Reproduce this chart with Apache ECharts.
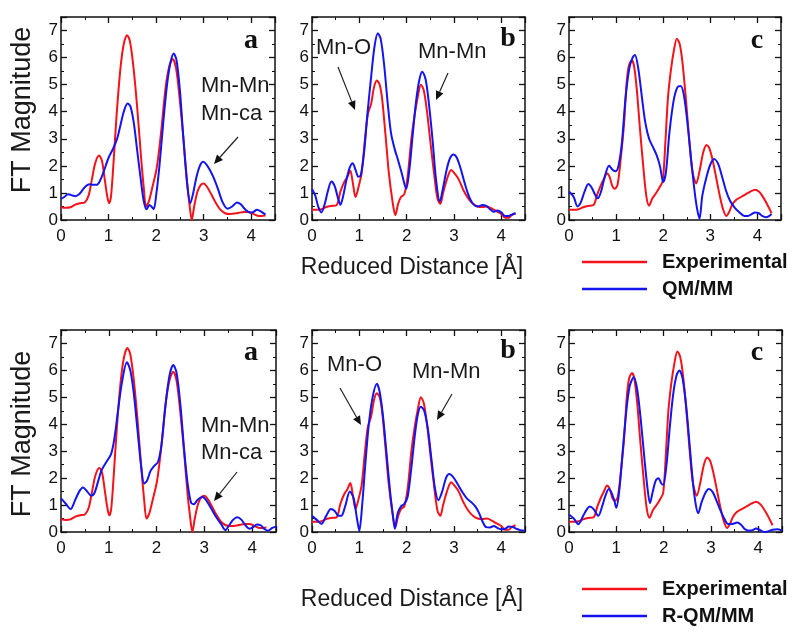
<!DOCTYPE html>
<html>
<head>
<meta charset="utf-8">
<script src="https://cdn.jsdelivr.net/npm/echarts@6/dist/echarts.min.js"></script>
<style>html,body{margin:0;padding:0;background:#fff;}#c{width:800px;height:636px;}</style>
</head>
<body>
<div id="c"></div>
<script>
// ---- Data: [reduced distance (Å), FT magnitude] ----
const expA = [[0,0.47],[0.1,0.45],[0.2,0.47],[0.3,0.57],[0.4,0.62],[0.5,0.65],[0.58,0.9],[0.65,1.5],[0.72,2.1],[0.8,2.38],[0.86,2.2],[0.92,1.5],[0.97,0.9],[1.01,0.62],[1.05,0.85],[1.1,2.0],[1.17,3.9],[1.25,5.6],[1.32,6.5],[1.39,6.83],[1.45,6.6],[1.52,5.7],[1.6,4.2],[1.68,2.4],[1.74,1.2],[1.79,0.5],[1.85,0.7],[1.92,1.2],[2.0,1.8],[2.05,2.4],[2.12,3.5],[2.2,4.9],[2.28,5.7],[2.35,5.95],[2.42,5.6],[2.5,4.4],[2.58,2.9],[2.65,1.4],[2.7,0.6],[2.75,0.0],[2.8,0.5],[2.87,1.05],[2.94,1.3],[3.0,1.35],[3.08,1.2],[3.16,0.95],[3.25,0.65],[3.35,0.38],[3.45,0.25],[3.55,0.22],[3.7,0.25],[3.85,0.3],[3.95,0.3],[4.05,0.22],[4.15,0.15],[4.3,0.17]];
const qmA = [[0,0.78],[0.07,0.85],[0.15,0.95],[0.22,0.92],[0.3,0.88],[0.38,0.95],[0.45,1.1],[0.52,1.25],[0.6,1.32],[0.67,1.3],[0.75,1.3],[0.82,1.45],[0.9,1.8],[1.0,2.3],[1.1,2.65],[1.18,3.0],[1.25,3.5],[1.32,4.0],[1.4,4.3],[1.46,4.2],[1.53,3.6],[1.6,2.6],[1.67,1.6],[1.74,0.7],[1.8,0.4],[1.86,0.55],[1.9,0.5],[1.95,0.4],[2.0,0.9],[2.07,2.0],[2.15,3.6],[2.23,5.0],[2.3,5.8],[2.37,6.15],[2.43,5.9],[2.5,4.8],[2.57,3.1],[2.65,1.4],[2.72,0.62],[2.78,1.0],[2.85,1.6],[2.92,2.0],[2.99,2.15],[3.06,2.05],[3.13,1.85],[3.2,1.6],[3.3,1.15],[3.4,0.65],[3.5,0.42],[3.6,0.5],[3.7,0.65],[3.78,0.58],[3.88,0.38],[3.98,0.27],[4.05,0.3],[4.12,0.38],[4.2,0.32],[4.3,0.2]];
const rqmA = [[0,1.25],[0.1,1.05],[0.2,0.85],[0.3,1.2],[0.38,1.5],[0.46,1.65],[0.55,1.5],[0.63,1.35],[0.7,1.45],[0.78,1.9],[0.85,2.3],[0.95,2.6],[1.05,2.9],[1.12,3.5],[1.2,4.6],[1.28,5.6],[1.38,6.3],[1.45,6.0],[1.52,5.2],[1.6,3.8],[1.68,2.4],[1.74,1.8],[1.8,1.9],[1.87,2.25],[1.95,2.45],[2.03,2.6],[2.1,3.2],[2.18,4.6],[2.27,5.8],[2.35,6.2],[2.42,5.9],[2.5,4.7],[2.58,3.0],[2.65,1.8],[2.72,1.1],[2.78,1.03],[2.86,1.2],[2.96,1.3],[3.05,1.15],[3.15,0.85],[3.25,0.55],[3.35,0.3],[3.44,0.07],[3.52,0.25],[3.6,0.45],[3.69,0.55],[3.78,0.45],[3.86,0.25],[3.95,0.12],[4.02,0.18],[4.1,0.28],[4.18,0.25],[4.25,0.12],[4.33,0.05],[4.42,0.15],[4.5,0.2]];

const expB = [[0,0.38],[0.1,0.38],[0.2,0.4],[0.3,0.48],[0.4,0.52],[0.52,0.55],[0.6,1.05],[0.68,1.4],[0.75,1.6],[0.81,1.82],[0.86,1.4],[0.92,0.85],[0.98,1.2],[1.05,1.75],[1.12,3.0],[1.18,3.9],[1.25,4.3],[1.31,4.9],[1.37,5.15],[1.43,5.0],[1.48,4.5],[1.55,3.2],[1.62,1.8],[1.7,0.7],[1.76,0.18],[1.82,0.6],[1.88,0.85],[1.95,0.95],[2.02,1.6],[2.1,3.0],[2.17,3.9],[2.24,4.6],[2.3,5.0],[2.36,4.8],[2.43,4.0],[2.5,2.9],[2.58,1.7],[2.65,0.8],[2.71,0.6],[2.77,1.0],[2.85,1.5],[2.94,1.85],[3.02,1.7],[3.1,1.5],[3.2,1.1],[3.3,0.8],[3.4,0.6],[3.5,0.5],[3.6,0.48],[3.7,0.5],[3.8,0.42],[3.9,0.32],[4.0,0.22],[4.08,0.08],[4.15,0.08],[4.22,0.18],[4.3,0.25]];
const qmB = [[0,1.15],[0.07,0.9],[0.13,0.5],[0.2,0.28],[0.27,0.6],[0.34,1.1],[0.41,1.42],[0.48,1.25],[0.55,0.8],[0.6,0.56],[0.66,0.9],[0.73,1.5],[0.8,1.95],[0.86,2.1],[0.92,1.85],[0.98,1.6],[1.03,1.65],[1.1,2.5],[1.17,3.9],[1.25,5.3],[1.32,6.4],[1.39,6.9],[1.45,6.7],[1.52,5.8],[1.6,4.3],[1.67,3.2],[1.75,2.6],[1.82,2.2],[1.9,1.7],[1.99,1.15],[2.06,1.9],[2.13,3.2],[2.2,4.4],[2.27,5.2],[2.33,5.48],[2.4,5.2],[2.47,4.3],[2.55,2.9],[2.62,1.5],[2.7,0.68],[2.77,1.2],[2.85,1.9],[2.92,2.3],[2.99,2.42],[3.06,2.3],[3.14,1.9],[3.22,1.4],[3.3,0.95],[3.4,0.6],[3.5,0.5],[3.6,0.55],[3.68,0.52],[3.76,0.4],[3.84,0.3],[3.92,0.35],[4.0,0.28],[4.08,0.15],[4.15,0.15],[4.22,0.2],[4.3,0.25]];
const rqmB = [[0,0.6],[0.1,0.45],[0.2,0.3],[0.3,0.6],[0.4,0.85],[0.48,0.78],[0.56,0.6],[0.62,0.6],[0.7,0.95],[0.8,1.5],[0.88,1.25],[0.95,0.5],[1.0,0.05],[1.06,1.0],[1.13,2.6],[1.2,4.0],[1.28,5.0],[1.37,5.5],[1.43,5.2],[1.5,4.3],[1.57,3.0],[1.65,1.5],[1.71,0.6],[1.75,0.12],[1.81,0.7],[1.88,0.95],[1.95,1.05],[2.02,1.3],[2.1,2.4],[2.18,3.7],[2.24,4.4],[2.3,4.65],[2.37,4.5],[2.45,3.8],[2.53,2.6],[2.6,1.6],[2.67,1.18],[2.75,1.5],[2.83,2.0],[2.9,2.15],[2.98,2.05],[3.07,1.8],[3.17,1.5],[3.27,1.25],[3.37,1.1],[3.45,0.95],[3.53,0.7],[3.6,0.4],[3.68,0.18],[3.76,0.17],[3.84,0.22],[3.92,0.15],[4.0,0.1],[4.08,0.12],[4.16,0.2],[4.24,0.18],[4.32,0.12],[4.4,0.07],[4.5,0.05]];

const expC = [[0,0.38],[0.1,0.38],[0.2,0.4],[0.3,0.47],[0.4,0.52],[0.52,0.55],[0.6,0.95],[0.68,1.3],[0.75,1.55],[0.8,1.73],[0.86,1.6],[0.92,1.25],[0.97,1.15],[1.03,1.3],[1.1,2.3],[1.17,3.6],[1.22,5.0],[1.27,5.7],[1.33,5.9],[1.38,5.7],[1.44,4.8],[1.5,3.5],[1.57,2.1],[1.64,0.9],[1.7,0.53],[1.77,0.8],[1.85,1.0],[1.92,1.2],[1.99,1.45],[2.05,3.0],[2.1,4.5],[2.16,5.5],[2.23,6.3],[2.29,6.7],[2.35,6.5],[2.41,5.8],[2.48,4.5],[2.55,3.0],[2.62,1.8],[2.7,1.35],[2.77,1.8],[2.85,2.5],[2.92,2.77],[2.98,2.65],[3.05,2.2],[3.12,1.6],[3.2,0.9],[3.27,0.4],[3.34,0.15],[3.4,0.3],[3.46,0.55],[3.55,0.75],[3.65,0.85],[3.75,0.95],[3.85,1.05],[3.95,1.12],[4.03,1.05],[4.1,0.9],[4.2,0.6],[4.3,0.25]];
const qmC = [[0,1.05],[0.1,0.85],[0.18,0.5],[0.25,0.65],[0.33,1.05],[0.41,1.33],[0.48,1.2],[0.55,0.95],[0.61,0.8],[0.68,1.05],[0.76,1.6],[0.85,2.0],[0.93,1.85],[0.99,1.8],[1.05,2.0],[1.12,2.8],[1.2,4.5],[1.28,5.6],[1.35,6.0],[1.4,6.1],[1.47,5.6],[1.55,4.5],[1.62,3.6],[1.7,3.0],[1.78,2.7],[1.86,2.4],[1.93,2.0],[2.0,1.4],[2.06,1.8],[2.13,3.2],[2.22,4.4],[2.3,4.9],[2.37,4.95],[2.44,4.6],[2.52,3.5],[2.6,2.1],[2.67,1.0],[2.72,0.4],[2.77,0.05],[2.83,0.9],[2.92,1.6],[3.0,2.05],[3.08,2.25],[3.16,2.1],[3.25,1.6],[3.33,1.1],[3.42,0.7],[3.52,0.45],[3.62,0.28],[3.72,0.15],[3.8,0.15],[3.88,0.22],[3.95,0.28],[4.03,0.25],[4.1,0.15],[4.18,0.1],[4.25,0.15],[4.3,0.22]];
const rqmC = [[0,0.65],[0.1,0.5],[0.2,0.29],[0.3,0.6],[0.38,0.85],[0.44,0.95],[0.52,0.85],[0.62,0.6],[0.7,0.95],[0.77,1.35],[0.84,1.6],[0.9,1.45],[0.96,1.15],[1.0,0.9],[1.06,1.5],[1.13,2.9],[1.2,4.3],[1.28,5.4],[1.37,5.75],[1.44,5.3],[1.52,4.1],[1.6,2.6],[1.66,1.6],[1.71,1.07],[1.77,1.5],[1.83,1.9],[1.89,2.0],[1.95,1.8],[1.99,1.75],[2.06,2.5],[2.13,3.9],[2.2,5.1],[2.27,5.8],[2.33,6.0],[2.4,5.7],[2.48,4.6],[2.55,3.2],[2.62,1.8],[2.68,1.0],[2.73,0.7],[2.8,1.1],[2.88,1.45],[2.95,1.6],[3.03,1.5],[3.12,1.15],[3.2,0.8],[3.28,0.5],[3.36,0.3],[3.45,0.3],[3.55,0.35],[3.63,0.28],[3.72,0.1],[3.8,0.05],[3.88,0.07],[3.95,0.13],[4.03,0.08],[4.12,0.0],[4.2,0.02],[4.3,0.08],[4.4,0.1],[4.5,0.05]];

const panelLetters = ['a','b','c','a','b','c'];
const yLabel = 'FT Magnitude';
const xLabel = 'Reduced Distance [Å]';
const legendTop = ['Experimental','QM/MM'];
const legendBottom = ['Experimental','R-QM/MM'];
const xMin = 0, xMax = 4.5, xStep = 1;
const yMin = 0, yMax = 7.5, yStep = 1;

// ---- Layout / style ----
const RED = '#f2141a', BLUE = '#1414f0';
const FONT = 'Liberation Sans, Arial, sans-serif';
const grids = [
  {left:61, top:17, width:214, height:203},
  {left:312, top:17, width:213, height:203},
  {left:569, top:17, width:212, height:203},
  {left:61, top:330, width:215, height:202},
  {left:312, top:330, width:213, height:202},
  {left:569, top:330, width:213, height:202}
];
const panelSeries = [
  [expA, qmA], [expB, qmB], [expC, qmC],
  [expA, rqmA], [expB, rqmB], [expC, rqmC]
];

const axisLine = {show:true, onZero:false, lineStyle:{color:'#111', width:1.5}};
const tick = {show:true, inside:true, length:6, lineStyle:{color:'#111', width:1.3}};
const minor = {show:true, splitNumber:2, length:3, lineStyle:{color:'#111', width:1}};
const lab = {color:'#111', fontSize:17, fontFamily:FONT};

const xAxes = [], yAxes = [], series = [];
grids.forEach((g, i) => {
  xAxes.push({type:'value', gridIndex:i, position:'bottom', min:xMin, max:xMax, interval:xStep,
    axisLine, axisTick:tick, minorTick:minor, splitLine:{show:false},
    axisLabel:Object.assign({margin:8, showMaxLabel:false}, lab)});
  xAxes.push({type:'value', gridIndex:i, position:'top', min:xMin, max:xMax, interval:xStep,
    axisLine, axisTick:tick, minorTick:minor, splitLine:{show:false}, axisLabel:{show:false}});
  yAxes.push({type:'value', gridIndex:i, position:'left', min:yMin, max:yMax, interval:yStep,
    axisLine, axisTick:tick, minorTick:minor, splitLine:{show:false},
    axisLabel:Object.assign({margin:3, showMaxLabel:false}, lab)});
  yAxes.push({type:'value', gridIndex:i, position:'right', min:yMin, max:yMax, interval:yStep,
    axisLine, axisTick:tick, minorTick:minor, splitLine:{show:false}, axisLabel:{show:false}});
  const [e, m] = panelSeries[i];
  series.push({type:'line', xAxisIndex:2*i, yAxisIndex:2*i, data:e, showSymbol:false, smooth:0.3,
    lineStyle:{color:RED, width:2}, itemStyle:{color:RED}, clip:true, z:2});
  series.push({type:'line', xAxisIndex:2*i, yAxisIndex:2*i, data:m, showSymbol:false, smooth:0.3,
    lineStyle:{color:BLUE, width:2}, itemStyle:{color:BLUE}, clip:true, z:3});
});

// ---- Annotations ----
function arrow(x1, y1, x2, y2) {
  const dx = x2 - x1, dy = y2 - y1, L = Math.hypot(dx, dy);
  const ux = dx / L, uy = dy / L, hl = 9, hw = 4;
  const bx = x2 - ux * hl, by = y2 - uy * hl;
  return [
    {type:'line', shape:{x1, y1, x2:bx, y2:by}, style:{stroke:'#222', lineWidth:1.2}},
    {type:'polygon', shape:{points:[[x2, y2],[bx - uy*hw, by + ux*hw],[bx + uy*hw, by - ux*hw]]}, style:{fill:'#111'}}
  ];
}
function txt(x, y, s, size, extra) {
  return {type:'text', x, y, style:Object.assign({text:s, fontSize:size, fontFamily:FONT, fill:'#1a1a1a'}, extra || {})};
}
const graphic = [];
// panel letters
const letterPos = [[251,55],[508,53],[757,55],[251,367],[508,365],[757,367]];
letterPos.forEach((p, i) => graphic.push(txt(p[0], p[1], panelLetters[i], 28,
  {fontFamily:'Liberation Serif, Times New Roman, serif', fontWeight:'bold', align:'center', verticalAlign:'bottom', fill:'#111'})));
// axis titles
graphic.push(txt(23, 110, yLabel, 27, {align:'center', verticalAlign:'middle'}));
graphic[graphic.length-1].rotation = Math.PI/2;
graphic.push(txt(23, 434, yLabel, 27, {align:'center', verticalAlign:'middle'}));
graphic[graphic.length-1].rotation = Math.PI/2;
graphic.push(txt(412, 268, xLabel, 23, {align:'center', verticalAlign:'middle'}));
graphic.push(txt(412, 600, xLabel, 23, {align:'center', verticalAlign:'middle'}));
// Mn labels
graphic.push(txt(201, 97, 'Mn-Mn', 22, {verticalAlign:'bottom'}));
graphic.push(txt(201, 125, 'Mn-ca', 22, {verticalAlign:'bottom'}));
graphic.push(...arrow(238, 137, 214, 164));
graphic.push(txt(201, 437, 'Mn-Mn', 22, {verticalAlign:'bottom'}));
graphic.push(txt(201, 464, 'Mn-ca', 22, {verticalAlign:'bottom'}));
graphic.push(...arrow(237, 472, 214, 501));
graphic.push(txt(316, 59, 'Mn-O', 22, {verticalAlign:'bottom'}));
graphic.push(...arrow(338, 67, 355, 110));
graphic.push(txt(418, 63, 'Mn-Mn', 22, {verticalAlign:'bottom'}));
graphic.push(...arrow(448, 73, 436, 100));
graphic.push(txt(327, 376, 'Mn-O', 22, {verticalAlign:'bottom'}));
graphic.push(...arrow(340, 388, 361, 425));
graphic.push(txt(412, 383, 'Mn-Mn', 22, {verticalAlign:'bottom'}));
graphic.push(...arrow(452, 394, 437, 420));
// legends
function legend(y0, names) {
  const cols = [RED, BLUE];
  names.forEach((n, k) => {
    const y = y0 + k * 27;
    graphic.push({type:'line', shape:{x1:582, y1:y, x2:647, y2:y}, style:{stroke:cols[k], lineWidth:2.5}});
    graphic.push(txt(662, y, n, 20, {fontWeight:'bold', verticalAlign:'middle', fill:'#111'}));
  });
}
legend(262, legendTop);
legend(589, legendBottom);

const chart = echarts.init(document.getElementById('c'), null, {renderer:'canvas'});
chart.setOption({
  animation:false,
  backgroundColor:'#fff',
  grid:grids,
  xAxis:xAxes,
  yAxis:yAxes,
  series,
  graphic
});
</script>
</body>
</html>
